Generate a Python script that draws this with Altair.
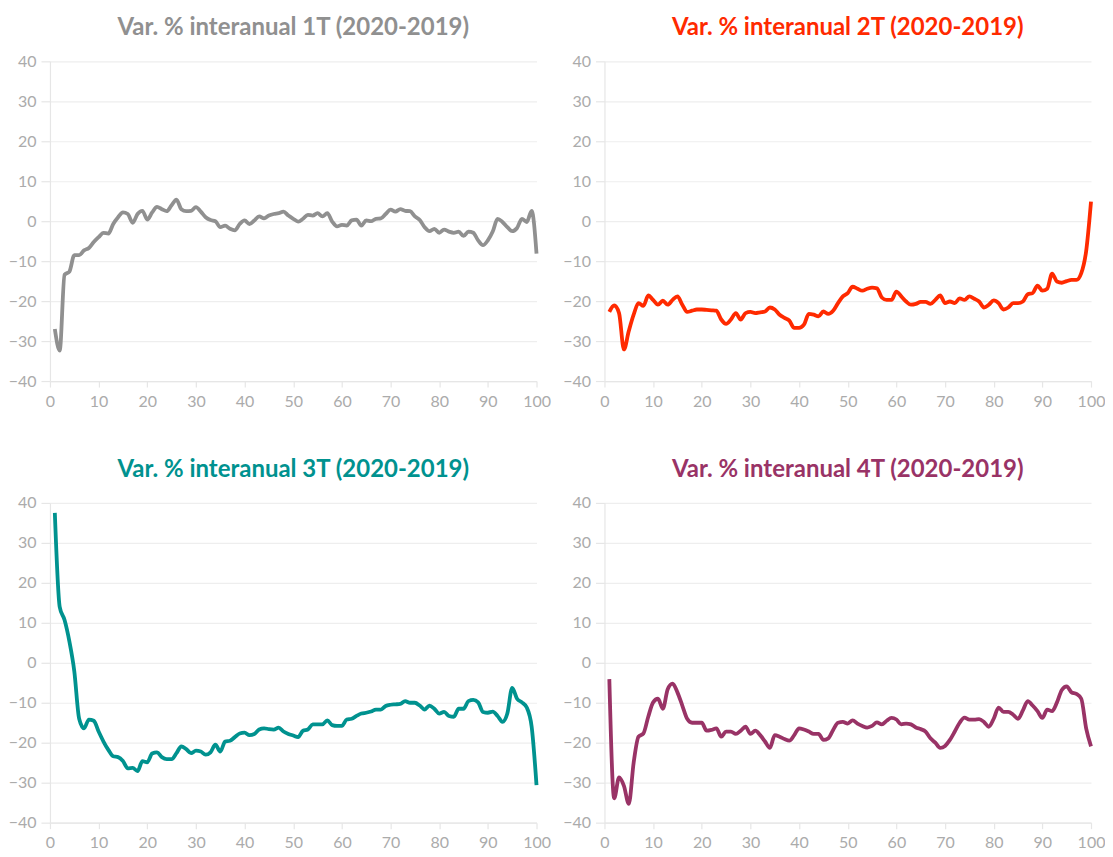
import altair as alt
import pandas as pd

x_vals = list(range(1, 101))

titles = [
    "Var. % interanual 1T (2020-2019)",
    "Var. % interanual 2T (2020-2019)",
    "Var. % interanual 3T (2020-2019)",
    "Var. % interanual 4T (2020-2019)",
]
colors = ["#909090", "#ff2a00", "#00928f", "#993366"]

s1 = [-27.0, -32.4, -13.4, -12.6, -8.5, -8.5, -7.3, -6.7, -5.2, -4.0,
      -2.9, -3.1, -0.7, 1.0, 2.2, 1.8, -0.4, 1.8, 2.6, 0.4,
      2.2, 3.6, 3.0, 2.5, 4.0, 5.4, 3.0, 2.5, 2.6, 3.5,
      2.4, 1.0, 0.3, 0.0, -1.5, -1.1, -1.9, -2.3, -0.7, 0.2,
      -0.7, 0.2, 1.2, 0.7, 1.4, 1.8, 2.0, 2.4, 1.4, 0.6,
      -0.1, 0.6, 1.6, 1.4, 2.0, 1.2, 2.0, -0.1, -1.3, -0.9,
      -1.1, 0.2, 0.4, -1.1, 0.2, 0.0, 0.6, 0.7, 1.8, 2.9,
      2.4, 3.0, 2.6, 2.5, 1.2, 0.3, -1.5, -2.5, -1.9, -2.9,
      -2.1, -2.6, -2.9, -2.6, -3.7, -2.6, -2.9, -4.8, -6.0, -4.8,
      -2.6, 0.6, -0.2, -1.5, -2.5, -1.7, 0.6, -0.2, 2.6, -8.1]

s2 = [-22.7, -21.1, -23.0, -32.1, -27.5, -23.4, -20.5, -21.2, -18.6, -19.7,
      -20.9, -19.9, -20.9, -19.7, -18.8, -20.9, -22.7, -22.4, -22.1, -22.1,
      -22.2, -22.3, -22.4, -24.6, -25.7, -24.6, -23.0, -24.6, -23.0, -22.7,
      -23.0, -22.8, -22.6, -21.6, -22.1, -23.4, -24.2, -24.9, -26.7, -26.7,
      -25.9, -23.2, -23.4, -23.8, -22.6, -23.2, -22.4, -20.5, -18.8, -18.0,
      -16.4, -16.9, -17.4, -16.9, -16.6, -16.8, -19.1, -19.7, -19.7, -17.6,
      -18.8, -20.1, -20.9, -20.7, -20.2, -20.2, -20.7, -19.7, -18.6, -20.5,
      -20.1, -20.5, -19.3, -19.7, -18.8, -19.4, -20.1, -21.6, -20.9, -19.8,
      -20.5, -22.1, -21.6, -20.5, -20.5, -20.1, -18.3, -18.0, -16.1, -17.4,
      -16.9, -13.1, -15.1, -15.4, -15.0, -14.7, -14.7, -13.0, -7.5, 4.9]

s3 = [37.5, 14.0, 10.7, 5.3, -2.1, -14.0, -16.4, -14.2, -14.5, -17.2,
      -19.7, -21.8, -23.4, -23.6, -24.6, -26.4, -26.3, -27.1, -24.6, -24.9,
      -22.7, -22.4, -23.6, -24.1, -24.1, -22.6, -20.9, -21.6, -22.6, -22.0,
      -22.2, -23.0, -22.4, -20.5, -22.2, -19.7, -19.5, -18.6, -17.7, -17.5,
      -18.1, -17.8, -16.7, -16.4, -16.6, -16.7, -16.2, -17.2, -17.8, -18.2,
      -18.6, -17.0, -16.7, -15.4, -15.4, -15.4, -14.4, -15.6, -15.8, -15.8,
      -14.2, -14.0, -13.3, -12.7, -12.5, -12.2, -11.7, -11.7, -10.8, -10.5,
      -10.4, -10.3, -9.6, -10.0, -10.0, -10.7, -11.7, -10.7, -11.5, -12.7,
      -12.3, -13.3, -13.5, -11.5, -11.5, -9.6, -9.3, -9.9, -12.3, -12.5,
      -12.2, -13.3, -14.8, -12.7, -6.3, -9.0, -9.9, -11.2, -16.0, -30.6]

s4 = [-4.1, -33.9, -28.7, -30.8, -35.3, -25.0, -18.5, -17.7, -13.5, -9.9,
      -9.0, -11.5, -6.6, -5.2, -7.4, -10.7, -14.0, -15.0, -15.0, -15.0,
      -17.0, -16.8, -16.4, -18.5, -17.2, -17.2, -17.8, -17.0, -16.0, -17.8,
      -17.0, -18.1, -19.7, -21.3, -18.1, -18.5, -19.1, -19.5, -18.1, -16.4,
      -16.7, -17.2, -17.8, -17.8, -19.3, -18.9, -16.8, -15.0, -14.8, -15.2,
      -14.4, -15.2, -15.8, -16.2, -15.8, -14.9, -15.4, -14.5, -13.8, -14.2,
      -15.4, -15.2, -15.4, -16.2, -16.6, -17.2, -18.9, -20.0, -21.3, -20.8,
      -19.3, -17.2, -15.0, -13.7, -14.2, -14.2, -14.1, -14.8, -16.0, -14.0,
      -11.2, -12.3, -12.3, -13.0, -14.0, -11.9, -9.6, -10.7, -12.1, -13.8,
      -11.7, -12.1, -9.9, -6.8, -5.9, -7.4, -7.8, -9.0, -16.4, -20.9]

series = [s1, s2, s3, s4]
x_ticks = list(range(0, 101, 10))
y_ticks = list(range(-40, 41, 10))

W, H = 487, 320


def panel(title, values, color):
    df = pd.DataFrame({"x": x_vals, "v": values})
    return (
        alt.Chart(df)
        .mark_line(interpolate="monotone", strokeWidth=3.8, color=color)
        .encode(
            x=alt.X("x:Q",
                    scale=alt.Scale(domain=[0, 100], nice=False),
                    axis=alt.Axis(values=x_ticks, title=None, grid=False,
                                  tickSize=6, labelPadding=6, domain=True,
                                  labelFlush=False)),
            y=alt.Y("v:Q",
                    scale=alt.Scale(domain=[-40, 40], nice=False),
                    axis=alt.Axis(values=y_ticks, title=None, grid=True,
                                  tickSize=9, labelPadding=5, domain=True)),
        )
        .properties(
            width=W, height=H,
            title=alt.TitleParams(title, color=color, fontSize=24,
                                  fontWeight="bold", anchor="middle",
                                  offset=13, font="Lato"),
        )
    )


panels = [panel(t, s, c) for t, s, c in zip(titles, series, colors)]

chart = (
    alt.concat(*panels, columns=2, spacing={"row": 122, "column": 68},
               bounds="flush")
    .properties(padding={"left": 0, "top": 8, "right": 0, "bottom": 0})
    .configure(font="Lato")
    .configure_view(stroke=None)
    .configure_axis(
        labelColor="#ababab",
        labelFontSize=16,
        labelFont="Lato",
        gridColor="#eeeeee",
        gridWidth=1.2,
        domainColor="#e6e6e6",
        tickColor="#e6e6e6",
        domainWidth=1.2,
        tickWidth=1.2,
    )
)

chart.save("out.html", embed_options={"renderer": "svg", "actions": False})
